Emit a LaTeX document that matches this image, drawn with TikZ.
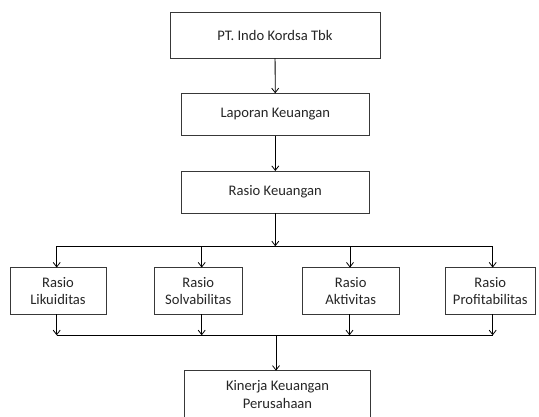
\documentclass[tikz,border=0pt]{standalone}
\usepackage{fontspec}
\setmainfont{Carlito}
\usetikzlibrary{arrows.meta}
\begin{document}
\begin{tikzpicture}[x=1pt,y=-1pt,
  box/.style={draw=black!78,line width=0.9pt,rectangle,inner sep=0pt,outer sep=0pt,align=center,
    font=\fontsize{14.6}{17.5}\selectfont,text=black!85},
  arr/.style={draw=black,line width=0.8pt,-{Straight Barb[length=4.5pt,width=7pt,line width=0.8pt]}},
  ln/.style={draw=black,line width=0.8pt}]
\clip (0,0) rectangle (539,416);
\fill[white] (0,0) rectangle (539,416);
\node[box,minimum width=210pt,minimum height=45.6pt] (A) at (275,35.5) {PT. Indo Kordsa Tbk};
\node[box,minimum width=187.3pt,minimum height=42.4pt] (B) at (275.3,114.5) {Laporan Keuangan};
\node[box,minimum width=187.3pt,minimum height=42pt] (C) at (275.3,192) {Rasio Keuangan};
\node[box,minimum width=96pt,minimum height=46.5pt] (L1) at (58,290.8) {Rasio\\Likuiditas};
\node[box,minimum width=88.7pt,minimum height=46.5pt] (L2) at (198.3,290.8) {Rasio\\Solvabilitas};
\node[box,minimum width=96.7pt,minimum height=46.5pt] (L3) at (350.7,290.8) {Rasio\\Aktivitas};
\node[box,minimum width=90.7pt,minimum height=46.5pt] (L4) at (490.3,290.8) {Rasio\\Profitabilitas};
\node[box,minimum width=186.4pt,minimum height=48pt] (K) at (277.5,394.7) {Kinerja Keuangan\\Perusahaan};
\coordinate (t1) at (56.7,246.3);
\coordinate (t2) at (201.7,246.3);
\coordinate (t3) at (350,246.3);
\coordinate (t4) at (492.7,246.3);
\coordinate (tm) at (275.3,246.3);
\coordinate (b1) at (56.7,335.3);
\coordinate (b2) at (201.7,335.3);
\coordinate (b3) at (349.5,335.3);
\coordinate (b4) at (492.7,335.3);
\coordinate (bm) at (276,335.3);
\draw[arr] (A) -- (B);
\draw[arr] (B) -- (C);
\draw[arr] (C.south) -- (tm);
\draw[ln] (t1) -- (t4);
\draw[arr] (t1) -- (t1 |- L1.north);
\draw[arr] (t2) -- (t2 |- L2.north);
\draw[arr] (t3) -- (t3 |- L3.north);
\draw[arr] (t4) -- (t4 |- L4.north);
\draw[arr] (L1.south -| b1) -- (b1);
\draw[arr] (L2.south -| b2) -- (b2);
\draw[arr] (L3.south -| b3) -- (b3);
\draw[arr] (L4.south -| b4) -- (b4);
\draw[ln] (b1) -- (b4);
\draw[arr] (bm) -- (bm |- K.north);
\end{tikzpicture}
\end{document}
